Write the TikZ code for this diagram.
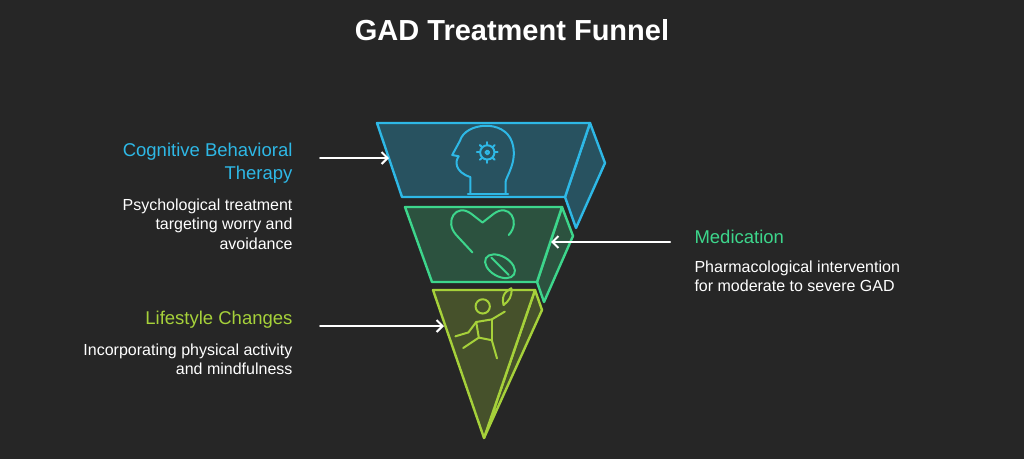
\documentclass[tikz,border=0pt]{standalone}
\usepackage{fontspec}
\setmainfont{Liberation Sans}
\begin{document}
\begin{tikzpicture}[x=1pt,y=-1pt,line join=round,line cap=round,
  lbl/.style={font=\fontsize{18.5}{23}\selectfont},
  desc/.style={font=\fontsize{16}{19.5}\selectfont,text=white},
  arr/.style={draw=white,line width=2pt,->,>={Straight Barb[length=6pt,width=12pt]}},
  face/.style={line width=2.4pt}]
\usetikzlibrary{arrows.meta}
\definecolor{bg}{HTML}{262626}
\definecolor{cy}{HTML}{2EB8E6}
\definecolor{gr}{HTML}{3DD68C}
\definecolor{li}{HTML}{A6D13A}
\fill[bg] (0,0) rectangle (1024,459);
\useasboundingbox (0,0) rectangle (1024,459);
\node[font=\bfseries\fontsize{29}{33}\selectfont,text=white] (title) at (512,30) {GAD Treatment Funnel};
% top section
\filldraw[face,draw=cy,fill=cy!30!bg] (590,123) -- (605,163) -- (576,228) -- (565,197) -- cycle;
\filldraw[face,draw=cy,fill=cy!30!bg] (377,123) -- (590,123) -- (565,197) -- (402,197) -- cycle;
% middle
\filldraw[face,draw=gr,fill=gr!25!bg] (562,207) -- (573,236) -- (544,302) -- (537,282) -- cycle;
\filldraw[face,draw=gr,fill=gr!25!bg] (405,207) -- (562,207) -- (537,282) -- (432,282) -- cycle;
% bottom
\filldraw[face,draw=li,fill=li!25!bg] (535,290) -- (542,310) -- (484,438) -- cycle;
\filldraw[face,draw=li,fill=li!25!bg] (433,290) -- (535,290) -- (484,438) -- cycle;
\coordinate (t1) at (389,158);
\coordinate (t2) at (551,242);
\coordinate (t3) at (444,326);
% icons
\begin{scope}[draw=cy,line width=2pt,shift={(486,155)},scale=1.3,shift={(-486,-155)}]
\draw (474,185) -- (474,172) .. controls (462,168) and (462,160) .. (465,156) -- (460,155) -- (466,144) .. controls (470,130) and (500,127) .. (506,145) .. controls (511,160) and (501,172) .. (501,176) -- (501,185);
\draw (472,185) -- (503,185);
\foreach \a in {0,45,...,315}{\draw (487,153) -- ++(\a:8);}
\draw[fill=cy!30!bg] (487,153) circle (5.5);
\draw (487,153) circle (1.5);
\end{scope}
\begin{scope}[draw=gr,line width=2pt,shift={(485,240)},scale=1.25,shift={(-485,-240)}]
\draw (475,250) -- (462,236) .. controls (452,225) and (462,210) .. (474,219) -- (483,226) -- (492,219) .. controls (504,210) and (514,225) .. (504,236);
\draw[rotate around={-30:(497,261)}] (497,261) ellipse (13 and 8);
\draw (490,254) -- (504,268);
\end{scope}
\begin{scope}[draw=li,line width=2pt,shift={(484,322)},scale=1.3,shift={(-484,-322)}]
\draw (483,310) circle (5.5);
\draw (462,333) -- (472,330) -- (478,322) -- (490,320) -- (500,314);
\draw (478,322) -- (480,334) -- (468,342);
\draw (480,334) -- (490,336) -- (494,350);
\draw (490,320) -- (490,336);
\draw (499,309) .. controls (497,300) and (502,298) .. (505,296) .. controls (506,302) and (503,306) .. (499,309);
\end{scope}
% labels
\node[lbl,text=cy,align=right,anchor=east] (l1) at (296,163) {Cognitive Behavioral\\Therapy};
\node[desc,align=right,anchor=north east] (d1) at (296,195) {Psychological treatment\\targeting worry and\\avoidance};
\node[lbl,text=gr,anchor=west] (l2) at (691,237) {Medication};
\node[desc,align=left,anchor=north west] (d2) at (691,257) {Pharmacological intervention\\for moderate to severe GAD};
\node[lbl,text=li,anchor=east] (l3) at (296,320) {Lifestyle Changes};
\node[desc,align=right,anchor=north east] (d3) at (296,340) {Incorporating physical activity\\and mindfulness};
\coordinate (s1) at (320,158);
\coordinate (s2) at (670,242);
\coordinate (s3) at (320,326);
\draw[arr] (s1) -- (t1);
\draw[arr] (s2) -- (t2);
\draw[arr] (s3) -- (t3);
\end{tikzpicture}
\end{document}
